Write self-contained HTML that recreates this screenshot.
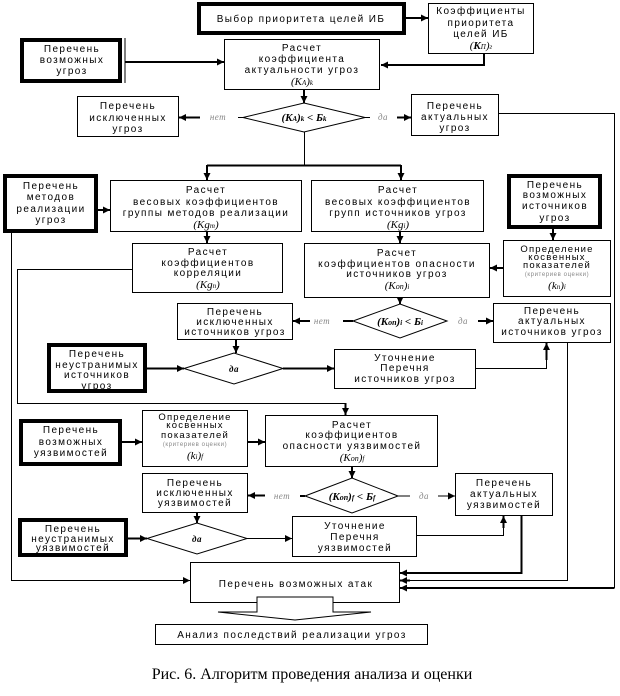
<!DOCTYPE html>
<html><head><meta charset="utf-8"><style>
html,body{margin:0;padding:0;background:#fff;}
svg{display:block;}
text{font-family:"Liberation Sans",sans-serif;font-size:10px;letter-spacing:1.4px;fill:#000;text-anchor:middle;}
.f{font-family:"Liberation Serif",serif;font-style:italic;letter-spacing:0;font-size:11px;}
.fb{font-family:"Liberation Serif",serif;font-style:italic;font-weight:bold;letter-spacing:0;font-size:11px;}
.g{font-family:"Liberation Serif",serif;font-style:italic;fill:#888;font-size:9px;letter-spacing:0.5px;}
.s{font-size:6px;fill:#888;letter-spacing:0.6px;}
.d{font-size:9.5px;letter-spacing:1.2px;}
.cap{font-family:"Liberation Serif",serif;font-size:16px;letter-spacing:0;}
</style></head><body>
<svg width="620" height="696" viewBox="0 0 620 696" xmlns="http://www.w3.org/2000/svg">
<defs>
<marker id="a" markerUnits="userSpaceOnUse" markerWidth="8" markerHeight="8" refX="7" refY="4" orient="auto"><path d="M0,0.5 L7,4 L0,7.5 z" fill="#000"/></marker>
</defs>
<g fill="none" stroke="#000" stroke-width="1">
<rect x="199" y="4" width="205" height="29" stroke-width="4"/>
<rect x="22" y="40" width="98" height="41" stroke-width="4"/>
<line x1="125" y1="38" x2="125" y2="83"/>
<rect x="5" y="176" width="91" height="55" stroke-width="4"/>
<rect x="509" y="176" width="91" height="51" stroke-width="4"/>
<rect x="512.5" y="179.5" width="84" height="44" stroke="#fff" stroke-width="1"/>
<rect x="49" y="345" width="96" height="46" stroke-width="4"/>
<rect x="21" y="421" width="99" height="43" stroke-width="4"/>
<rect x="20" y="520" width="106" height="35" stroke-width="4"/>
<rect x="428.5" y="3.5" width="105" height="50"/>
<rect x="224.5" y="39.5" width="155" height="50"/>
<rect x="77.5" y="96.5" width="101" height="40"/>
<rect x="411.5" y="94.5" width="87" height="41"/>
<rect x="110.5" y="180.5" width="191" height="51"/>
<rect x="311.5" y="180.5" width="172" height="51"/>
<rect x="132.5" y="243.5" width="150" height="49"/>
<rect x="304.5" y="243.5" width="185" height="54"/>
<rect x="503.5" y="240.5" width="107" height="56"/>
<rect x="177.5" y="303.5" width="115" height="36"/>
<rect x="493.5" y="303.5" width="117" height="39"/>
<rect x="334.5" y="349.5" width="141" height="39"/>
<rect x="142.5" y="410.5" width="105" height="56"/>
<rect x="265.5" y="415.5" width="172" height="51"/>
<rect x="142.5" y="473.5" width="105" height="39"/>
<rect x="455.5" y="473.5" width="97" height="42"/>
<rect x="292.5" y="516.5" width="124" height="40"/>
<rect x="190.5" y="562.5" width="209" height="40"/>
<rect x="155.5" y="624.5" width="272" height="20"/>
<polygon points="243,117.5 304,103 365,117.5 304,132" fill="#fff"/>
<polygon points="353,321 400,304 447,321 400,338" fill="#fff"/>
<polygon points="184,368.5 234,353 283,368.5 234,384" fill="#fff"/>
<polygon points="305,496 352,478 398,496 352,513" fill="#fff"/>
<polygon points="147,538.5 197,523 247,538.5 197,554" fill="#fff"/>
<polygon points="257,597 333,597 333,612 371,612 295,620 218,612 257,612" fill="#fff"/>
</g>
<g fill="none" stroke="#000" stroke-width="1">
<line x1="404" y1="18" x2="428" y2="18" stroke-width="2" marker-end="url(#a)"/>
<polyline points="484,54 484,65 381,65" stroke-width="2" marker-end="url(#a)"/>
<line x1="125" y1="62" x2="224" y2="62" stroke-width="2" marker-end="url(#a)"/>
<line x1="304" y1="90" x2="304" y2="103" stroke-width="2" marker-end="url(#a)"/>
<line x1="238" y1="117.5" x2="243" y2="117.5"/>
<line x1="200" y1="117.5" x2="179" y2="117.5" stroke-width="2" marker-end="url(#a)"/>
<line x1="365" y1="117.5" x2="370" y2="117.5"/>
<line x1="397" y1="117.5" x2="411" y2="117.5" stroke-width="2" marker-end="url(#a)"/>
<polyline points="498,113.5 614.5,113.5 614.5,588"/>
<line x1="614.5" y1="588" x2="400" y2="588" stroke-width="2" marker-end="url(#a)"/>
<polyline points="304.5,132 304.5,165.5"/>
<line x1="207" y1="165.5" x2="401" y2="165.5" stroke-width="2"/>
<line x1="207" y1="165" x2="207" y2="180" stroke-width="2" marker-end="url(#a)"/>
<line x1="401" y1="165" x2="401" y2="180" stroke-width="2" marker-end="url(#a)"/>
<line x1="98" y1="210" x2="110" y2="210" stroke-width="2" marker-end="url(#a)"/>
<polyline points="11.5,233 11.5,580.5 180,580.5"/>
<line x1="180" y1="580.5" x2="190" y2="580.5" marker-end="url(#a)"/>
<line x1="207" y1="232" x2="207" y2="243" stroke-width="2" marker-end="url(#a)"/>
<line x1="400" y1="232" x2="400" y2="243" stroke-width="2" marker-end="url(#a)"/>
<line x1="553" y1="229" x2="553" y2="240" stroke-width="2" marker-end="url(#a)"/>
<line x1="503" y1="268" x2="490" y2="268" stroke-width="2" marker-end="url(#a)"/>
<polyline points="132,269.5 17.5,269.5 17.5,403.5 345.5,403.5 345.5,408"/>
<line x1="345.5" y1="403" x2="345.5" y2="415" stroke-width="2" marker-end="url(#a)"/>
<line x1="400" y1="298" x2="400" y2="304" stroke-width="2" marker-end="url(#a)"/>
<line x1="343" y1="321" x2="353" y2="321" stroke-width="2"/>
<line x1="310" y1="321" x2="293" y2="321" stroke-width="2" marker-end="url(#a)"/>
<line x1="478" y1="321" x2="493" y2="321" stroke-width="2" marker-end="url(#a)"/>
<line x1="236" y1="340" x2="236" y2="353" stroke-width="2" marker-end="url(#a)"/>
<line x1="147" y1="368.5" x2="184" y2="368.5" stroke-width="2" marker-end="url(#a)"/>
<line x1="283" y1="368.5" x2="334" y2="368.5" stroke-width="2" marker-end="url(#a)"/>
<polyline points="476,368.5 546.5,368.5 546.5,343" stroke-width="1"/>
<line x1="546.5" y1="360" x2="546.5" y2="343" stroke-width="2" marker-end="url(#a)"/>
<polyline points="567.5,343 567.5,580.5 410,580.5"/>
<line x1="410" y1="580.5" x2="400" y2="580.5" stroke-width="2" marker-end="url(#a)"/>
<line x1="122" y1="442" x2="142" y2="442" stroke-width="2" marker-end="url(#a)"/>
<line x1="248" y1="442" x2="265" y2="442" stroke-width="2" marker-end="url(#a)"/>
<line x1="352" y1="467" x2="352" y2="478" stroke-width="2" marker-end="url(#a)"/>
<line x1="300" y1="496" x2="305" y2="496" stroke-width="2"/>
<line x1="265" y1="495.5" x2="248" y2="495.5" stroke-width="2" marker-end="url(#a)"/>
<line x1="398" y1="496" x2="410" y2="496"/>
<line x1="438" y1="496" x2="455" y2="496" marker-end="url(#a)"/>
<line x1="197" y1="513" x2="197" y2="523" stroke-width="2" marker-end="url(#a)"/>
<line x1="128" y1="538.5" x2="147" y2="538.5" stroke-width="2" marker-end="url(#a)"/>
<line x1="247" y1="538.5" x2="292" y2="538.5" marker-end="url(#a)"/>
<polyline points="417,535.5 503.5,535.5 503.5,516"/>
<line x1="503.5" y1="528" x2="503.5" y2="516" stroke-width="2" marker-end="url(#a)"/>
<polyline points="521.5,516 521.5,573 400,573" stroke-width="2" marker-end="url(#a)"/>
</g>
<text x="301" y="22">Выбор приоритета целей ИБ</text>
<text x="481" y="14">Коэффициенты</text><text x="481" y="26">приоритета</text><text x="481" y="37">целей ИБ</text><text x="481" y="49" class="f">(<tspan font-weight="bold">K</tspan><tspan font-size="7">П</tspan>)<tspan font-size="7">г</tspan></text>
<text x="72" y="52">Перечень</text><text x="72" y="63">возможных</text><text x="72" y="74">угроз</text>
<text x="302" y="51">Расчет</text><text x="302" y="62">коэффициента</text><text x="302" y="73">актуальности угроз</text><text x="302" y="85" class="f">(K<tspan font-size="7">А</tspan>)<tspan font-size="7">k</tspan></text>
<text x="304" y="121" class="fb">(K<tspan font-size="7">А</tspan>)<tspan font-size="7">k</tspan> &lt; Б<tspan font-size="7">k</tspan></text>
<text x="128" y="109">Перечень</text><text x="128" y="121">исключенных</text><text x="128" y="132">угроз</text>
<text x="218" y="120" class="g">нет</text><text x="383" y="120" class="g">да</text>
<text x="455" y="109">Перечень</text><text x="455" y="120">актуальных</text><text x="455" y="131">угроз</text>
<text x="51" y="189">Перечень</text><text x="51" y="200">методов</text><text x="51" y="212">реализации</text><text x="51" y="223">угроз</text>
<text x="206" y="193">Расчет</text><text x="206" y="205">весовых коэффициентов</text><text x="206" y="216">группы методов реализации</text><text x="206" y="228" class="f">(Kg<tspan font-size="7">m</tspan>)</text>
<text x="398" y="193">Расчет</text><text x="398" y="205">весовых коэффициентов</text><text x="398" y="216">групп источников угроз</text><text x="398" y="228" class="f">(Kg<tspan font-size="7">i</tspan>)</text>
<text x="555" y="188">Перечень</text><text x="555" y="198">возможных</text><text x="555" y="209">источников</text><text x="555" y="221">угроз</text>
<text x="208" y="255">Расчет</text><text x="208" y="266">коэффициентов</text><text x="208" y="276">корреляции</text><text x="208" y="288" class="f">(Kg<tspan font-size="7">n</tspan>)</text>
<text x="397" y="256">Расчет</text><text x="397" y="267">коэффициентов опасности</text><text x="397" y="277">источников угроз</text><text x="397" y="289" class="f">(K<tspan font-size="8">оп</tspan>)<tspan font-size="7">i</tspan></text>
<text x="557" y="252" class="d">Определение</text><text x="557" y="260" class="d">косвенных</text><text x="557" y="268" class="d">показателей</text><text x="557" y="276" class="s">(критериев оценки)</text><text x="557" y="289" class="f">(k<tspan font-size="7">n</tspan>)<tspan font-size="7">i</tspan></text>
<text x="235" y="315">Перечень</text><text x="235" y="325">исключенных</text><text x="235" y="335">источников угроз</text>
<text x="322" y="324" class="g">нет</text><text x="463" y="324" class="g">да</text>
<text x="400" y="325" class="fb">(K<tspan font-size="8">оп</tspan>)<tspan font-size="7">i</tspan> &lt; Б<tspan font-size="7">i</tspan></text>
<text x="552" y="314">Перечень</text><text x="552" y="324">актуальных</text><text x="552" y="335">источников угроз</text>
<text x="97" y="357">Перечень</text><text x="97" y="368">неустранимых</text><text x="97" y="378">источников</text><text x="97" y="389">угроз</text>
<text x="234" y="372" class="g" style="fill:#000;font-weight:bold">да</text>
<text x="405" y="361">Уточнение</text><text x="405" y="371">Перечня</text><text x="405" y="382">источников угроз</text>
<text x="71" y="433">Перечень</text><text x="71" y="445">возможных</text><text x="71" y="456">уязвимостей</text>
<text x="195" y="420" class="d">Определение</text><text x="195" y="428" class="d">косвенных</text><text x="195" y="438" class="d">показателей</text><text x="195" y="446" class="s">(критериев оценки)</text><text x="195" y="459" class="f">(k<tspan font-size="7">i</tspan>)<tspan font-size="7">f</tspan></text>
<text x="352" y="428">Расчет</text><text x="352" y="438">коэффициентов</text><text x="352" y="449">опасности уязвимостей</text><text x="352" y="461" class="f">(K<tspan font-size="8">оп</tspan>)<tspan font-size="7">f</tspan></text>
<text x="195" y="486">Перечень</text><text x="195" y="496">исключенных</text><text x="195" y="506">уязвимостей</text>
<text x="282" y="499" class="g">нет</text><text x="424" y="499" class="g">да</text>
<text x="352" y="500" class="fb">(K<tspan font-size="8">оп</tspan>)<tspan font-size="7">f</tspan> &lt; Б<tspan font-size="7">f</tspan></text>
<text x="504" y="486">Перечень</text><text x="504" y="497">актуальных</text><text x="504" y="508">уязвимостей</text>
<text x="73" y="532">Перечень</text><text x="73" y="542">неустранимых</text><text x="73" y="551">уязвимостей</text>
<text x="197" y="542" class="g" style="fill:#000;font-weight:bold">да</text>
<text x="355" y="529">Уточнение</text><text x="355" y="540">Перечня</text><text x="355" y="551">уязвимостей</text>
<text x="296" y="587">Перечень возможных атак</text>
<text x="292" y="638">Анализ последствий реализации угроз</text>
<text x="312" y="679" class="cap">Рис. 6. Алгоритм проведения анализа и оценки</text>
</svg>
</body></html>
